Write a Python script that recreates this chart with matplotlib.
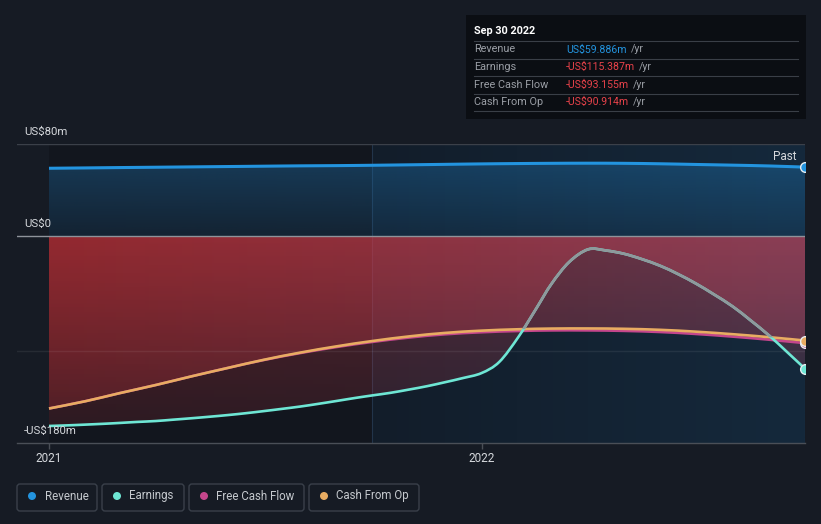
import numpy as np
import pandas as pd
import matplotlib
matplotlib.use('Agg')
import matplotlib.pyplot as plt
from matplotlib.patches import Rectangle, FancyBboxPatch, PathPatch
from matplotlib.path import Path
from matplotlib.transforms import IdentityTransform

plt.rcParams['font.family'] = ['Roboto', 'DejaVu Sans']

# 数据（从图上读取，单位: 百万美元）
months = pd.date_range('2020-12-31', '2022-09-30', freq='ME')
revenue = [58.9, 59.2, 59.5, 59.8, 60.1, 60.4, 60.7, 61.0, 61.2, 61.5, 61.9,
           62.3, 62.7, 63.0, 63.2, 63.3, 63.2, 62.8, 62.2, 61.6, 60.9, 59.886]
cash_from_op = [-150.0, -143.6, -136.8, -129.6, -122.1, -114.7, -107.7, -101.4,
                -95.9, -91.3, -87.3, -84.3, -82.3, -81.1, -80.5, -80.4, -80.7,
                -81.6, -83.2, -85.4, -88.0, -90.914]
free_cash_flow = [-150.0, -143.6, -136.8, -129.6, -122.1, -114.7, -107.9, -101.8,
                  -96.5, -92.1, -88.3, -85.5, -83.7, -82.6, -82.1, -82.1, -82.5,
                  -83.5, -85.2, -87.5, -90.2, -93.155]
# earnings 读半月一次
half_months = pd.date_range('2020-12-31', '2022-09-30', freq='SME')
earnings = [-165.2, -164.7, -164.0, -163.3, -162.6, -161.7, -160.9, -159.7,
            -158.5, -157.2, -155.7, -154.1, -152.3, -150.4, -148.3, -146.0,
            -143.4, -140.9, -138.6, -136.4, -133.5, -130.6, -127.2, -123.6,
            -119.2, -109.5, -88.0, -63.4, -41.7, -22.6, -11.6, -12.6, -15.4,
            -20.0, -26.0, -33.2, -41.4, -50.7, -61.3, -73.3, -86.8, -101.0,
            -115.387]

tip_labels = ['Revenue', 'Earnings', 'Free Cash Flow', 'Cash From Op']
tip_values = ['US$59.886m', '-US$115.387m', '-US$93.155m', '-US$90.914m']
y_ticks = [80, 0, -180]
y_tick_labels = ['US$80m', 'US$0', '-US$180m']

BG = '#161b24'
C_REV = '#2394df'
C_EARN = '#6ee6d4'
C_FCF = '#c4468c'
C_CFO = '#e8ac62'
C_GRAY = '#8f999c'
C_RED = '#e8424a'


def dec_year(idx):
    days = np.where(idx.is_leap_year, 366, 365)
    return np.asarray(idx.year + idx.dayofyear / days, dtype=float)


def smooth_path(x, y):
    # Catmull-Rom 曲线 -> 三次贝塞尔
    pts = np.column_stack([x, y])
    verts = [pts[0]]
    codes = [Path.MOVETO]
    n = len(pts)
    for i in range(n - 1):
        p0 = pts[i - 1] if i > 0 else pts[i]
        p1, p2 = pts[i], pts[i + 1]
        p3 = pts[i + 2] if i + 2 < n else pts[i + 1]
        verts += [p1 + (p2 - p0) / 6, p2 - (p3 - p1) / 6, p2]
        codes += [Path.CURVE4] * 3
    return Path(verts, codes)


def draw_line(ax, x, y, color, lw, z, clip=None):
    patch = PathPatch(smooth_path(x, y), facecolor='none', edgecolor=color,
                      lw=lw, zorder=z, capstyle='butt', joinstyle='round')
    ax.add_patch(patch)
    if clip is not None:
        patch.set_clip_path(clip.get_paths()[0], ax.transData)
    return patch


xm = dec_year(months)
xh = dec_year(half_months)
x_end = xm[-1]
divider = dec_year(pd.DatetimeIndex(['2021-09-30']))[0]

W, H = 821, 524
fig = plt.figure(figsize=(W / 100, H / 100), dpi=100)
fig.patch.set_facecolor(BG)
T = IdentityTransform()

ax_l, ax_r, ax_t, ax_b = 17, 805, 144, 443
ax = fig.add_axes([ax_l / W, (H - ax_b) / H, (ax_r - ax_l) / W, (ax_b - ax_t) / H])
ax.set_facecolor(BG)
scale = (ax_r - 49) / (x_end - 2021)
x0 = 2021 - (49 - ax_l) / scale
YMIN, YMAX = -180, 80


def gradient(ax, extent, left, right, a_top, a_bot, clip=None, z=1):
    nx, ny = 200, 100
    t = np.linspace(0, 1, nx)[None, :, None]
    s = np.linspace(0, 1, ny)[:, None, None]
    rgb = np.array(matplotlib.colors.to_rgb(left)) * (1 - t) + np.array(matplotlib.colors.to_rgb(right)) * t
    rgb = np.broadcast_to(rgb, (ny, nx, 3))
    alpha = np.broadcast_to(a_top * (1 - s) + a_bot * s, (ny, nx, 1))
    img = np.concatenate([rgb, alpha], axis=2)
    im = ax.imshow(img, extent=extent, origin='upper', aspect='auto',
                   interpolation='bilinear', zorder=z)
    if clip is not None:
        im.set_clip_path(clip.get_paths()[0], ax.transData)
    return im


# 背景区域
ax.axvspan(xm[0], divider, color='#12161e', lw=0, zorder=0)
gradient(ax, (divider, x_end, YMIN, YMAX), '#121d2a', '#15293c', 1, 1, z=0)
ax.axvline(divider, color='#22344a', lw=0.8, zorder=0.5)

# 填充
rev_poly = ax.fill_between(xm, revenue, 0, facecolor='none', edgecolor='none')
gradient(ax, (xm[0], x_end, 0, 70), '#1e6ea8', '#1e78b8', 0.42, 0.15, clip=rev_poly, z=1)
cfo_poly = ax.fill_between(xm, cash_from_op, 0, facecolor='none', edgecolor='none')
gradient(ax, (xm[0], x_end, YMIN, 0), '#d8343a', '#c84b64', 0.47, 0.16, clip=cfo_poly, z=1.1)
earn_poly = ax.fill_between(xh, earnings, 0, facecolor='none', edgecolor='none')
gradient(ax, (xm[0], x_end, YMIN, 0), '#d8343a', '#c84b64', 0.36, 0.12, clip=earn_poly, z=1.2)

# 网格线
ax.axhline(80, color='#3b4049', lw=1, zorder=1.5)
ax.axhline(-100, color='#ffffff', alpha=0.07, lw=1, zorder=1.5)
ax.axhline(0, color='#8e939a', lw=1, zorder=1.6)

# 线
draw_line(ax, xm, revenue, C_REV, 2.2, 3)
draw_line(ax, xm, free_cash_flow, C_FCF, 1.9, 3.1)
draw_line(ax, xm, cash_from_op, C_CFO, 1.9, 3.2)
draw_line(ax, xh, earnings, C_EARN, 1.9, 3.3)
above = ax.fill_between(xm, cash_from_op, YMAX + 20, facecolor='none', edgecolor='none')
draw_line(ax, xh, earnings, C_GRAY, 1.9, 3.4, clip=above)

# 末端圆点
for vals, c, z in [(revenue, C_REV, 4), (free_cash_flow, C_FCF, 4.1),
                   (cash_from_op, C_CFO, 4.2), (earnings, C_EARN, 4.3)]:
    ax.plot([x_end], [vals[-1]], 'o', ms=7, mfc=c, mec='#e8eef2', mew=1, zorder=z)

ax.set_xlim(x0, x_end)
ax.set_ylim(YMIN, YMAX)
for sp in ['top', 'right', 'left']:
    ax.spines[sp].set_visible(False)
ax.spines['bottom'].set_color('#4a4f57')
ax.spines['bottom'].set_linewidth(1)
ax.set_yticks([])
ax.set_xticks([2021, 2022])
ax.set_xticklabels(['2021', '2022'])
ax.tick_params(axis='x', colors='#4a4f57', length=4, width=1, pad=2.5,
               labelcolor='#d5d8dc', labelsize=8.5)

# y 轴标签
y_to_px = lambda v: ax_t + (YMAX - v) / (YMAX - YMIN) * (ax_b - ax_t)
for v, lab in zip(y_ticks, y_tick_labels):
    fig.text(24, H - (y_to_px(v) - 12), lab, transform=T, color='#d5d8dc',
             fontsize=8.2, va='center', ha='left')

fig.text(797, H - 156, 'Past', transform=T, color='#d5d8dc', fontsize=8.5,
         va='center', ha='right')

# 提示框
fig.add_artist(Rectangle((466, H - 119), 340, 104, transform=T,
                         facecolor='#0b0e13', edgecolor='none'))
fig.text(474, H - 31, 'Sep 30 2022', transform=T, color='#ffffff',
         fontsize=7.8, fontweight='bold', va='center')
for yl in [41, 58.5, 76, 93.5, 111]:
    fig.add_artist(plt.Line2D([474, 798], [H - yl, H - yl], transform=T,
                              color='#3a3f47', lw=0.8))
renderer = fig.canvas.get_renderer()
for i, (lab, val) in enumerate(zip(tip_labels, tip_values)):
    yc = H - (49.5 + i * 17.5)
    fig.text(474, yc, lab, transform=T, color='#9a9ea5', fontsize=7.8, va='center')
    vt = fig.text(566, yc, val, transform=T, color=C_REV if i == 0 else C_RED,
                  fontsize=7.6, va='center')
    bb = vt.get_window_extent(renderer)
    fig.text(bb.x1 + 4, yc, '/yr', transform=T, color='#9a9ea5', fontsize=7.6,
             va='center')

# 图例
legend_items = [('Revenue', C_REV, 17, 97), ('Earnings', C_EARN, 102, 184),
                ('Free Cash Flow', C_FCF, 189, 304), ('Cash From Op', C_CFO, 309, 419)]
for lab, c, xa, xb in legend_items:
    fig.add_artist(FancyBboxPatch((xa, H - 511), xb - xa, 27, transform=T,
                                  boxstyle='round,pad=0,rounding_size=3',
                                  facecolor='none', edgecolor='#3a404a', lw=1))
    fig.add_artist(matplotlib.patches.Circle((xa + 15, H - 496), 4, transform=T,
                                             facecolor=c, edgecolor='none'))
    fig.text(xa + 27.5, H - 496, lab, transform=T, color='#c5c9ce',
             fontsize=8.3, va='center')

fig.savefig('out.png', dpi=100, facecolor=BG)
